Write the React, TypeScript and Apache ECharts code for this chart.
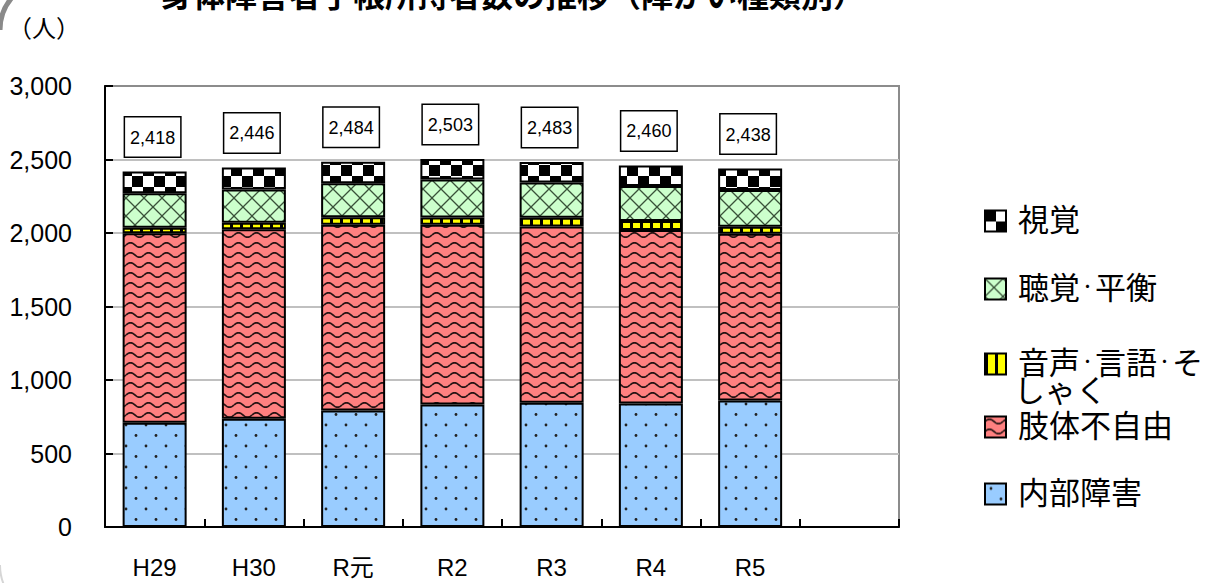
import React, { useEffect, useRef } from 'react';
import * as echarts from 'echarts';

// 年度（最後の空欄はグラフ右側の余白用）
const years = ['H29', 'H30', 'R元', 'R2', 'R3', 'R4', 'R5', ''];

// 障がい種類別の手帳所持者数（人）
const internalOrgans = [709, 736, 792, 833, 845, 840, 860]; // 内部障害
const physicalLimbs = [1290, 1290, 1264, 1223, 1200, 1180, 1135]; // 肢体不自由
const speechChewing = [36, 43, 51, 49, 58, 62, 48]; // 音声・言語・そしゃく
const hearingBalance = [236, 227, 232, 259, 240, 238, 250]; // 聴覚・平衡
const visual = [147, 150, 145, 139, 140, 140, 145]; // 視覚

const seriesNames = ['内部障害', '肢体不自由', '音声・言語・そしゃく', '聴覚・平衡', '視覚'];
const seriesValues = [internalOrgans, physicalLimbs, speechChewing, hearingBalance, visual];

const totals = internalOrgans.map((_, i) =>
  seriesValues.reduce((sum, arr) => sum + arr[i], 0)
);

const CJK = '"Noto Sans CJK JP", sans-serif';
const LATIN = '"Liberation Sans", Arial, "Noto Sans CJK JP", sans-serif';

type Draw = (ctx: CanvasRenderingContext2D, w: number, h: number) => void;

function tile(w: number, h: number, draw: Draw) {
  const c = document.createElement('canvas');
  c.width = w;
  c.height = h;
  const ctx = c.getContext('2d') as CanvasRenderingContext2D;
  draw(ctx, w, h);
  return { image: c, repeat: 'repeat', imageWidth: w, imageHeight: h } as any;
}

function makePatterns() {
  // 内部障害: 水色に点
  const dots = tile(20, 21, (ctx, w, h) => {
    ctx.fillStyle = '#99CCFF';
    ctx.fillRect(0, 0, w, h);
    ctx.fillStyle = '#222';
    [[6, 5], [16, 15.5]].forEach(([x, y]) => {
      ctx.beginPath();
      ctx.arc(x, y, 1.4, 0, Math.PI * 2);
      ctx.fill();
    });
  });
  // 肢体不自由: 赤に波線
  const waves = tile(18, 10, (ctx, w, h) => {
    ctx.fillStyle = '#FF8080';
    ctx.fillRect(0, 0, w, h);
    ctx.strokeStyle = 'rgba(0,0,0,0.85)';
    ctx.lineWidth = 1.7;
    ctx.beginPath();
    for (let x = 0; x <= w; x += 0.5) {
      const y = 5 - 2.2 * Math.sin((2 * Math.PI * x) / w);
      if (x === 0) ctx.moveTo(x, y);
      else ctx.lineTo(x, y);
    }
    ctx.stroke();
  });
  // 音声・言語・そしゃく: 黄色に縦縞
  const stripes = tile(10, 10, (ctx, w, h) => {
    ctx.fillStyle = '#FFFF00';
    ctx.fillRect(0, 0, w, h);
    ctx.fillStyle = '#000';
    ctx.fillRect(0, 0, 3, h);
  });
  // 聴覚・平衡: 緑に斜め格子
  const lattice = tile(18, 18, (ctx, w, h) => {
    ctx.fillStyle = '#CCFFCC';
    ctx.fillRect(0, 0, w, h);
    ctx.strokeStyle = 'rgba(30,50,30,0.85)';
    ctx.lineWidth = 1.3;
    ctx.beginPath();
    ctx.moveTo(0, 0);
    ctx.lineTo(w, h);
    ctx.moveTo(w, 0);
    ctx.lineTo(0, h);
    ctx.stroke();
  });
  // 視覚: 白黒の市松模様
  const checker = tile(22, 22, (ctx, w, h) => {
    ctx.fillStyle = '#FFFFFF';
    ctx.fillRect(0, 0, w, h);
    ctx.fillStyle = '#000';
    ctx.fillRect(0, 0, w / 2, h / 2);
    ctx.fillRect(w / 2, h / 2, w / 2, h / 2);
  });
  return [dots, waves, stripes, lattice, checker];
}

// 凡例の文字列をリッチテキストの部品に分ける（中黒は小さめ）
function legendRich(text: string) {
  return text
    .split('・')
    .map((part, i) => `{${i === 0 ? 'f' : 't'}|${part}}`)
    .join('{d|・}');
}

function buildOption() {
  const patterns = makePatterns();

  const series = seriesNames.map((name, idx) => ({
    name,
    type: 'bar',
    stack: 'total',
    barWidth: 64,
    data: seriesValues[idx],
    itemStyle: { color: patterns[idx], borderColor: '#000', borderWidth: 2 },
    emphasis: { disabled: true },
    label:
      idx === seriesNames.length - 1
        ? {
            show: true,
            position: 'top',
            distance: 15,
            offset: [-2, 0],
            formatter: (p: any) => totals[p.dataIndex].toLocaleString('en-US'),
            fontSize: 18,
            fontFamily: LATIN,
            color: '#000',
            backgroundColor: '#fff',
            borderColor: '#000',
            borderWidth: 1.5,
            padding: [10, 5, 9, 5],
            lineHeight: 20,
          }
        : { show: false },
  }));

  // 凡例（上から 視覚 → 内部障害）
  const ICON = 21;
  const legendItems = [
    { name: '視覚', top: 202 },
    { name: '聴覚・平衡', top: 270 },
    { name: '音声・言語・そしゃく', top: 345, label: '音声・言語・そ' },
    { name: '肢体不自由', top: 408 },
    { name: '内部障害', top: 475 },
  ];

  const tokenBase = { fontFamily: CJK, color: '#000', lineHeight: ICON, verticalAlign: 'middle' };

  const legend = legendItems.map((item) => ({
    data: [item.name],
    left: 984,
    top: item.top,
    padding: 0,
    itemWidth: ICON,
    itemHeight: ICON,
    icon: 'rect',
    selectedMode: false,
    itemStyle: { borderColor: '#000', borderWidth: 2 },
    formatter: (n: string) => legendRich(item.label || n),
    textStyle: {
      fontSize: 31,
      fontFamily: CJK,
      color: '#000',
      lineHeight: ICON,
      rich: {
        f: { ...tokenBase, fontSize: 31, padding: [0, 0, 7, 7] },
        t: { ...tokenBase, fontSize: 31, padding: [0, 0, 7, 0] },
        d: { ...tokenBase, fontSize: 15, padding: [0, 0, 7, 0] },
      },
    },
  }));

  return {
    animation: false,
    backgroundColor: '#fff',
    grid: {
      left: 105,
      right: 314,
      top: 86,
      bottom: 56,
      show: true,
      borderColor: '#8c8c8c',
      borderWidth: 2,
      backgroundColor: 'transparent',
    },
    legend,
    xAxis: {
      type: 'category',
      data: years,
      axisLine: { lineStyle: { color: '#000', width: 2 } },
      axisTick: { show: true, inside: true, length: 8, interval: 0, lineStyle: { color: '#000', width: 2 } },
      axisLabel: { fontSize: 24, fontFamily: LATIN, color: '#000', margin: 28, interval: 0 },
      splitLine: { show: false },
    },
    yAxis: {
      type: 'value',
      min: 0,
      max: 3000,
      interval: 500,
      axisLine: { show: true, lineStyle: { color: '#000', width: 2 } },
      axisTick: { show: true, inside: true, length: 8, lineStyle: { color: '#000', width: 2 } },
      axisLabel: {
        fontSize: 25,
        fontFamily: LATIN,
        color: '#000',
        margin: 33,
        formatter: (v: number) => v.toLocaleString('en-US'),
      },
      splitLine: { show: true, showMinLine: false, showMaxLine: false, lineStyle: { color: '#c0c0c0', width: 2 } },
    },
    series,
    graphic: [
      {
        type: 'text',
        x: 161,
        y: -7,
        style: {
          text: '身体障害者手帳所持者数の推移（障がい種類別）',
          fontSize: 32,
          fontWeight: 'bold',
          fontFamily: CJK,
          fill: '#000',
          align: 'left',
          verticalAlign: 'middle',
        },
      },
      {
        type: 'text',
        x: 8,
        y: 26,
        style: {
          text: '（人）',
          fontSize: 24,
          fontFamily: CJK,
          fill: '#000',
          align: 'left',
          verticalAlign: 'middle',
        },
      },
      {
        // 凡例「音声・言語・そしゃく」の折り返し行
        type: 'text',
        x: 1014,
        y: 388,
        style: {
          text: 'しゃく',
          fontSize: 31,
          lineHeight: 26,
          fontFamily: CJK,
          fill: '#000',
          align: 'left',
          verticalAlign: 'middle',
        },
      },
      {
        type: 'arc',
        shape: { cx: 50, cy: 30, r: 50, startAngle: Math.PI, endAngle: Math.PI * 1.5, clockwise: true },
        style: { stroke: '#8a8a8a', lineWidth: 5, fill: 'none' },
      },
      {
        type: 'arc',
        shape: { cx: 50, cy: 565, r: 50, startAngle: Math.PI * 0.5, endAngle: Math.PI, clockwise: true },
        style: { stroke: '#d6d6d6', lineWidth: 2, fill: 'none' },
      },
    ],
  };
}

export default function App() {
  const ref = useRef<HTMLDivElement>(null);

  useEffect(() => {
    if (!ref.current) return;
    const chart = echarts.init(ref.current, null, { renderer: 'svg' });
    chart.setOption(buildOption() as any);
    return () => chart.dispose();
  }, []);

  return (
    <div
      ref={ref}
      style={{ position: 'fixed', left: 0, top: 0, width: 1213, height: 583, background: '#fff' }}
    />
  );
}
